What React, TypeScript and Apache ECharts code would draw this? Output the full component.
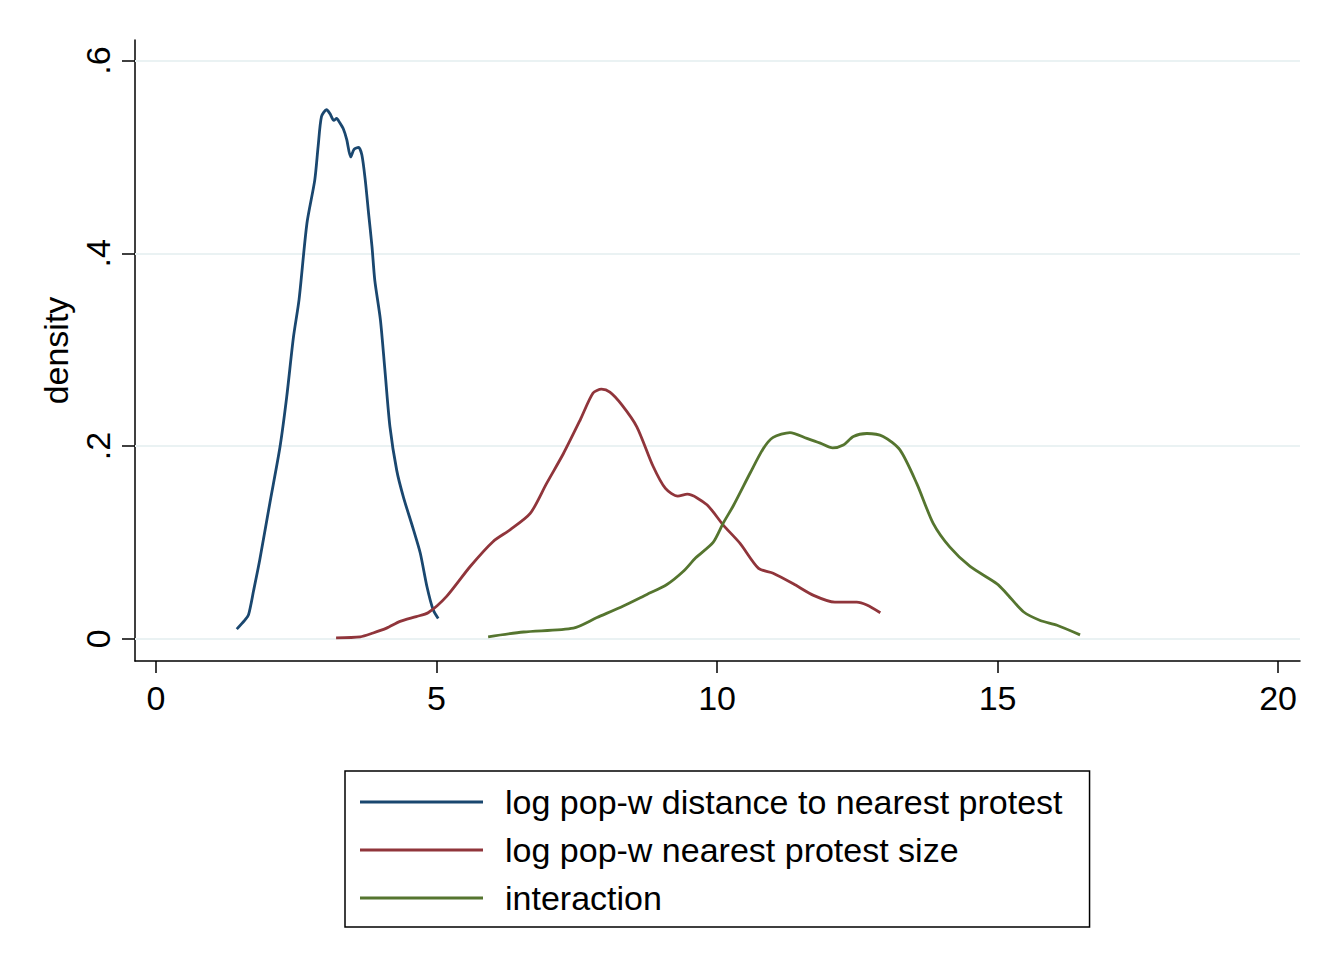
import React, { useEffect, useRef } from "react";
import * as echarts from "echarts";

const seriesNames = [
  "log pop-w distance to nearest protest",
  "log pop-w nearest protest size",
  "interaction",
];

const distancePoints: [number, number][] = [
  [1.44, 0.01], [1.58, 0.019], [1.65, 0.025], [1.74, 0.05], [1.85, 0.082], [2.03, 0.141],
  [2.21, 0.199], [2.33, 0.251], [2.45, 0.313], [2.55, 0.352], [2.69, 0.431], [2.83, 0.476],
  [2.89, 0.511], [2.95, 0.542], [3.04, 0.549], [3.1, 0.545], [3.17, 0.538], [3.22, 0.54],
  [3.27, 0.536], [3.34, 0.529], [3.4, 0.518], [3.47, 0.5], [3.53, 0.508], [3.61, 0.51],
  [3.67, 0.502], [3.73, 0.476], [3.79, 0.441], [3.85, 0.407], [3.9, 0.372], [4.0, 0.331],
  [4.08, 0.279], [4.17, 0.22], [4.29, 0.175], [4.41, 0.147], [4.59, 0.113], [4.71, 0.089],
  [4.83, 0.054], [4.94, 0.03], [5.03, 0.021],
];

const sizePoints: [number, number][] = [
  [3.21, 0.001], [3.64, 0.002], [3.87, 0.006], [4.11, 0.011], [4.35, 0.018], [4.64, 0.023],
  [4.85, 0.027], [5.18, 0.044], [5.6, 0.075], [6.01, 0.101], [6.31, 0.113], [6.67, 0.13],
  [6.96, 0.161], [7.26, 0.192], [7.56, 0.227], [7.79, 0.255], [7.94, 0.259], [8.09, 0.256],
  [8.3, 0.243], [8.57, 0.22], [8.86, 0.179], [9.08, 0.156], [9.3, 0.148], [9.47, 0.15],
  [9.82, 0.139], [10.11, 0.118], [10.41, 0.099], [10.74, 0.073], [11.0, 0.068], [11.36, 0.057],
  [11.72, 0.045], [12.1, 0.038], [12.49, 0.038], [12.67, 0.035], [12.91, 0.027],
];

const interactionPoints: [number, number][] = [
  [5.92, 0.002], [6.55, 0.007], [7.44, 0.011], [7.86, 0.022], [8.33, 0.034], [8.75, 0.046],
  [9.1, 0.056], [9.4, 0.07], [9.62, 0.084], [9.93, 0.1], [10.11, 0.12], [10.29, 0.138],
  [10.59, 0.172], [10.82, 0.197], [11.0, 0.209], [11.3, 0.214], [11.6, 0.208], [11.84, 0.203],
  [12.06, 0.198], [12.25, 0.201], [12.43, 0.21], [12.67, 0.213], [12.96, 0.21], [13.26, 0.196],
  [13.56, 0.161], [13.85, 0.12], [14.15, 0.095], [14.51, 0.075], [14.99, 0.057], [15.16, 0.047],
  [15.46, 0.028], [15.76, 0.019], [16.06, 0.014], [16.47, 0.004],
];

const xTicks = [0, 5, 10, 15, 20];
const yTicks = [0, 0.2, 0.4, 0.6];
const yTickLabels = ["0", ".2", ".4", ".6"];

const colors = ["#1a476f", "#90353b", "#55752f"];
const FONT = "'Liberation Sans', Arial, sans-serif";

export default function App() {
  const ref = useRef<HTMLDivElement>(null);
  useEffect(() => {
    if (!ref.current) return;
    const chart = echarts.init(ref.current, null, { renderer: "svg" });
    const datasets = [distancePoints, sizePoints, interactionPoints];
    chart.setOption({
      animation: false,
      backgroundColor: "#ffffff",
      textStyle: { fontFamily: FONT },
      grid: { left: 135, top: 40, width: 1165, height: 621, containLabel: false },
      xAxis: {
        type: "value",
        min: -0.374,
        max: 20.39,
        axisLine: { show: true, onZero: false, lineStyle: { color: "#000", width: 1.5 } },
        axisTick: { show: true, customValues: xTicks, length: 12, lineStyle: { color: "#000", width: 1.5 } },
        axisLabel: {
          customValues: xTicks,
          fontSize: 34,
          color: "#000",
          fontFamily: FONT,
          margin: 20,
        },
        splitLine: { show: false },
      },
      yAxis: {
        type: "value",
        min: -0.0231,
        max: 0.6214,
        name: "density",
        nameLocation: "middle",
        nameRotate: 90,
        nameGap: 58,
        nameTextStyle: { fontSize: 34, color: "#000", fontFamily: FONT },
        axisLine: { show: true, onZero: false, lineStyle: { color: "#000", width: 1.5 } },
        axisTick: { show: true, customValues: yTicks, length: 13, lineStyle: { color: "#000", width: 1.5 } },
        axisLabel: {
          customValues: yTicks,
          rotate: 90,
          fontSize: 34,
          color: "#000",
          fontFamily: FONT,
          margin: 20,
          formatter: (v: number) => {
            const i = yTicks.findIndex((t) => Math.abs(t - v) < 1e-9);
            return i >= 0 ? yTickLabels[i] : "";
          },
        },
        splitLine: { show: false },
      },
      legend: {
        orient: "vertical",
        left: 345,
        top: 771,
        borderColor: "#000",
        borderWidth: 1.5,
        padding: [14, 27, 12, 15],
        itemWidth: 123,
        itemHeight: 3,
        itemGap: 14,
        icon: "rect",
        textStyle: { fontSize: 34, lineHeight: 33, color: "#000", fontFamily: FONT, padding: [0, 0, 0, 17] },
        data: seriesNames,
      },
      series: seriesNames.map((name, i) => ({
        name,
        type: "line",
        data: datasets[i],
        showSymbol: false,
        symbol: "none",
        smooth: 0.25,
        color: colors[i],
        lineStyle: { color: colors[i], width: 2.8 },
        z: 3,
        markLine:
          i === 0
            ? {
                silent: true,
                symbol: "none",
                label: { show: false },
                lineStyle: { color: "#eaf2f3", width: 2, type: "solid" },
                data: yTicks.map((t) => ({ yAxis: t })),
                z: 1,
              }
            : undefined,
      })),
    });
    return () => chart.dispose();
  }, []);
  return (
    <div
      ref={ref}
      style={{ position: "fixed", left: 0, top: 0, width: 1335, height: 968, background: "#fff" }}
    />
  );
}
